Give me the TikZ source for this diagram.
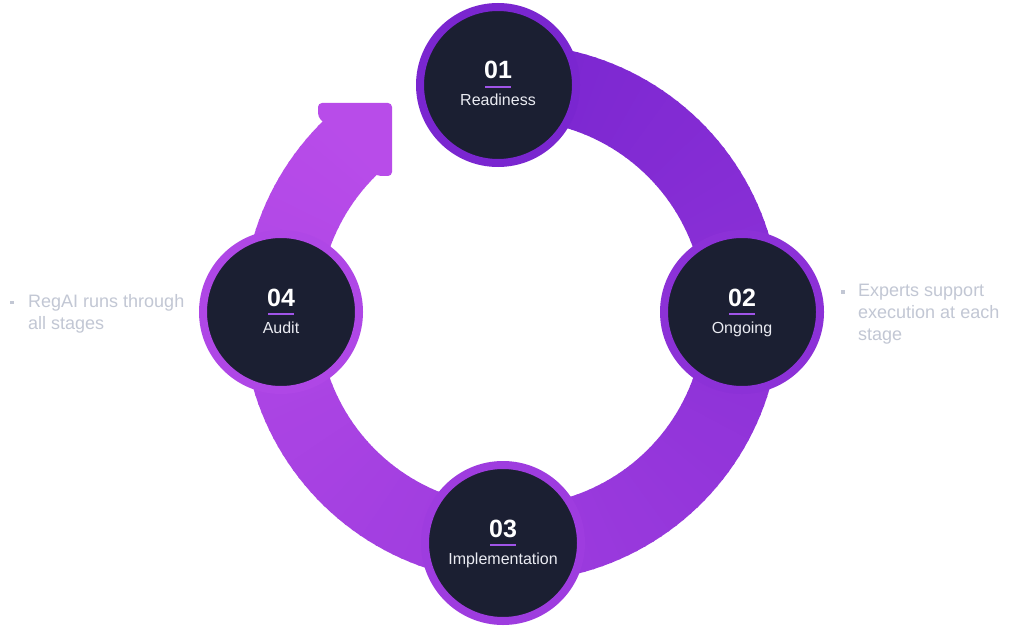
\documentclass[tikz,border=0pt]{standalone}
\usepackage{fontspec}
\setmainfont{Liberation Sans}
\definecolor{darkfill}{RGB}{27,31,50}
\definecolor{startc}{RGB}{122,38,208}
\definecolor{endc}{RGB}{184,76,233}
\definecolor{barc}{RGB}{160,84,232}
\definecolor{sidegray}{RGB}{194,199,212}
\definecolor{labelc}{RGB}{234,235,242}
\colorlet{cA}{endc!0!startc}
\colorlet{cB}{endc!29!startc}
\colorlet{cC}{endc!58!startc}
\colorlet{cD}{endc!86!startc}
\newcommand\ringcx{511.5}
\newcommand\ringcy{313}
\newcommand\ringin{193}
\newcommand\ringout{269}
\begin{document}
\begin{tikzpicture}[x=1pt,y=-1pt,
  stage/.style={circle, fill=darkfill, line width=8pt, minimum size=156pt, inner sep=0pt},
  numtxt/.style={anchor=base, text=white, font=\fontsize{25}{28}\selectfont\bfseries, inner sep=0pt},
  labtxt/.style={anchor=base, text=labelc, font=\fontsize{16}{18}\selectfont, inner sep=0pt},
  sidetxt/.style={anchor=base west, text=sidegray, font=\fontsize{18}{22}\selectfont, inner sep=0pt},
  barline/.style={draw=barc, line width=2.5pt},
  bulletsq/.style={fill=sidegray}]
\useasboundingbox (0,0) rectangle (1024,628);
\fill[white] (0,0) rectangle (1024,628);
% ring with angular gradient
\foreach \i in {0,...,159}{
  \pgfmathsetmacro\aa{92-\i*2}
  \pgfmathsetmacro\ab{92-(\i+1)*2-0.4}
  \pgfmathtruncatemacro\pp{round(\i*100/159)}
  \colorlet{segc}{endc!\pp!startc}
  \fill[segc] ({\ringcx+\ringin*cos(\aa)},{\ringcy-\ringin*sin(\aa)})
     -- ({\ringcx+\ringout*cos(\aa)},{\ringcy-\ringout*sin(\aa)})
     -- ({\ringcx+\ringout*cos(\ab)},{\ringcy-\ringout*sin(\ab)})
     -- ({\ringcx+\ringin*cos(\ab)},{\ringcy-\ringin*sin(\ab)}) -- cycle;
}
% arrowhead
\fill[endc, rounded corners=4pt] (318,103) -- (392,103) -- (392,176) -- (377,176) -- (318,117) -- cycle;
% stages
\node[stage, draw=cA] (s1) at (498,85) {};
\node[stage, draw=cB] (s2) at (742,312) {};
\node[stage, draw=cC] (s3) at (503,543) {};
\node[stage, draw=cD] (s4) at (281,312) {};
\foreach \s/\n/\l in {s1/01/Readiness, s2/02/Ongoing, s3/03/Implementation, s4/04/Audit}{
  \node[numtxt] (\s num) at ([yshift=6pt]\s.center) {\n};
  \node[labtxt] (\s lab) at ([yshift=-21pt]\s.center) {\l};
  \draw[barline] ([xshift=-13pt,yshift=-2pt]\s.center) -- ([xshift=13pt,yshift=-2pt]\s.center);
}
% side notes
\fill[bulletsq] (10,300.5) rectangle (13.5,304);
\node[sidetxt] (l1) at (28,307) {RegAI runs through};
\node[sidetxt] (l2) at (28,329) {all stages};
\fill[bulletsq] (841,290) rectangle (844.5,293.5);
\node[sidetxt] (r1) at (858,296) {Experts support};
\node[sidetxt] (r2) at (858,318) {execution at each};
\node[sidetxt] (r3) at (858,340) {stage};
\end{tikzpicture}
\end{document}
